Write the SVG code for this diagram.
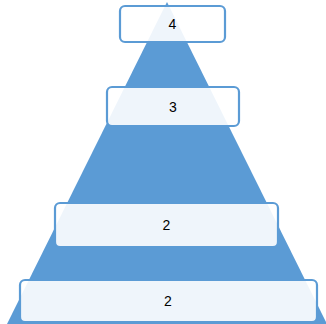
<svg xmlns="http://www.w3.org/2000/svg" width="326" height="324" viewBox="0 0 326 324">
<style>
.box{fill:#fff;fill-opacity:0.9;stroke:#5B9BD5;stroke-width:2.2}
.lbl{font-family:"Liberation Sans",Arial,sans-serif;font-size:14px;fill:#000;text-anchor:middle;dominant-baseline:central}
</style>
<rect width="326" height="324" fill="#fff"/>
<polygon points="167,2 327,324 7,324" fill="#5B9BD5"/>
<g id="connectors"></g>
<g id="n4"><rect class="box" x="120" y="6" width="105" height="36" rx="5"/><text class="lbl" x="172.5" y="24">4</text></g>
<g id="n3"><rect class="box" x="107" y="87" width="132" height="39" rx="5"/><text class="lbl" x="173" y="106.5">3</text></g>
<g id="n2a"><rect class="box" x="55" y="203" width="223" height="44" rx="5"/><text class="lbl" x="166.5" y="225">2</text></g>
<g id="n2b"><rect class="box" x="20" y="280" width="297" height="42" rx="5"/><text class="lbl" x="168" y="301">2</text></g>
</svg>
